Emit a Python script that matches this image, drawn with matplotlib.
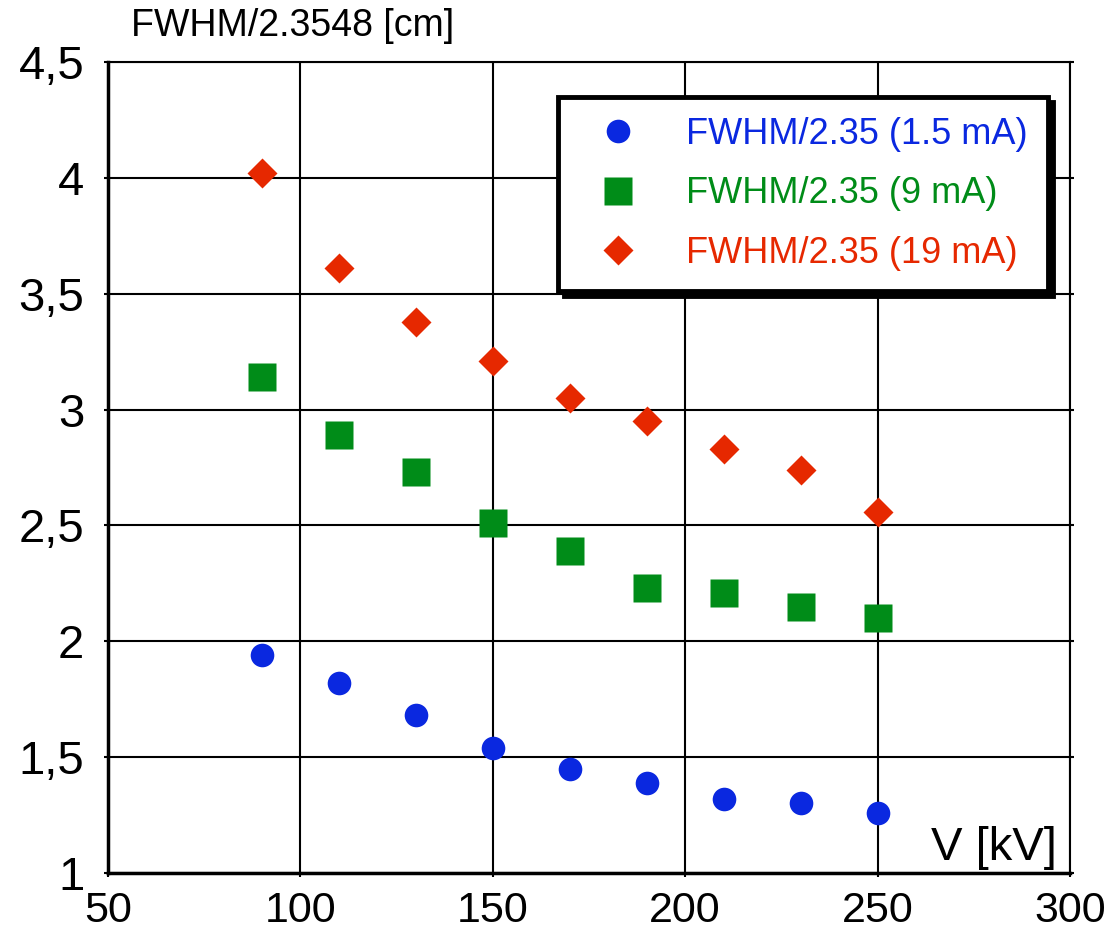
import numpy as np
import matplotlib.pyplot as plt

plt.rcParams['font.family'] = ['Liberation Sans', 'DejaVu Sans']

# Data
voltage = [90, 110, 130, 150, 170, 190, 210, 230, 250]
fwhm_1_5mA = [1.94, 1.82, 1.68, 1.54, 1.45, 1.39, 1.32, 1.30, 1.26]
fwhm_9mA = [3.14, 2.89, 2.73, 2.51, 2.39, 2.23, 2.21, 2.15, 2.10]
fwhm_19mA = [4.02, 3.61, 3.38, 3.21, 3.05, 2.95, 2.83, 2.74, 2.56]

xticks = [50, 100, 150, 200, 250, 300]
yticks = [1, 1.5, 2, 2.5, 3, 3.5, 4, 4.5]
ytick_labels = ['1', '1,5', '2', '2,5', '3', '3,5', '4', '4,5']

blue = '#0a28e0'
green = '#008c18'
red = '#e62800'

fig = plt.figure(figsize=(11.13, 9.38), dpi=100)
ax = fig.add_axes([0.097, 0.0693, 0.8643, 0.8646])

ax.plot(voltage, fwhm_1_5mA, 'o', color=blue, ms=17, mec='none',
        label='FWHM/2.35 (1.5 mA)', zorder=3)
ax.plot(voltage, fwhm_9mA, 's', color=green, ms=20, mec='none',
        label='FWHM/2.35 (9 mA)', zorder=3)
ax.plot(voltage, fwhm_19mA, 'D', color=red, ms=15, mec='none',
        label='FWHM/2.35 (19 mA)', zorder=3)

ax.set_xlim(50, 300)
ax.set_ylim(1, 4.5)
ax.set_xticks(xticks)
ax.set_yticks(yticks)
ax.set_yticklabels(ytick_labels)
ax.tick_params(width=1.5, length=3, direction='out', right=True, top=False)
ax.tick_params(axis='y', labelsize=34, pad=14)
ax.tick_params(axis='x', labelsize=31, pad=10)
ax.grid(True, color='black', linewidth=1.5)
ax.set_axisbelow(True)
for side in ['left', 'bottom']:
    ax.spines[side].set_linewidth(2.5)
for side in ['right', 'top']:
    ax.spines[side].set_linewidth(1.5)

fig.text(0.118, 0.9616, 'FWHM/2.3548 [cm]', fontsize=27, ha='left',
         va='baseline')
ax.text(0.986, 0.016, 'V [kV]', fontsize=34, ha='right', va='baseline',
        transform=ax.transAxes)

leg = ax.legend(loc='upper left', bbox_to_anchor=(0.468, 0.957),
                fontsize=26, frameon=True, fancybox=False,
                shadow={'color': 'black', 'ox': 4, 'oy': -4, 'alpha': 1},
                labelcolor='markerfacecolor', borderpad=0.55,
                handletextpad=0.8, labelspacing=0.68, handlelength=2.2,
                borderaxespad=0)
leg.get_frame().set_edgecolor('black')
leg.get_frame().set_linewidth(3.5)
leg.get_frame().set_alpha(1)

plt.savefig('out.png', dpi=100)
